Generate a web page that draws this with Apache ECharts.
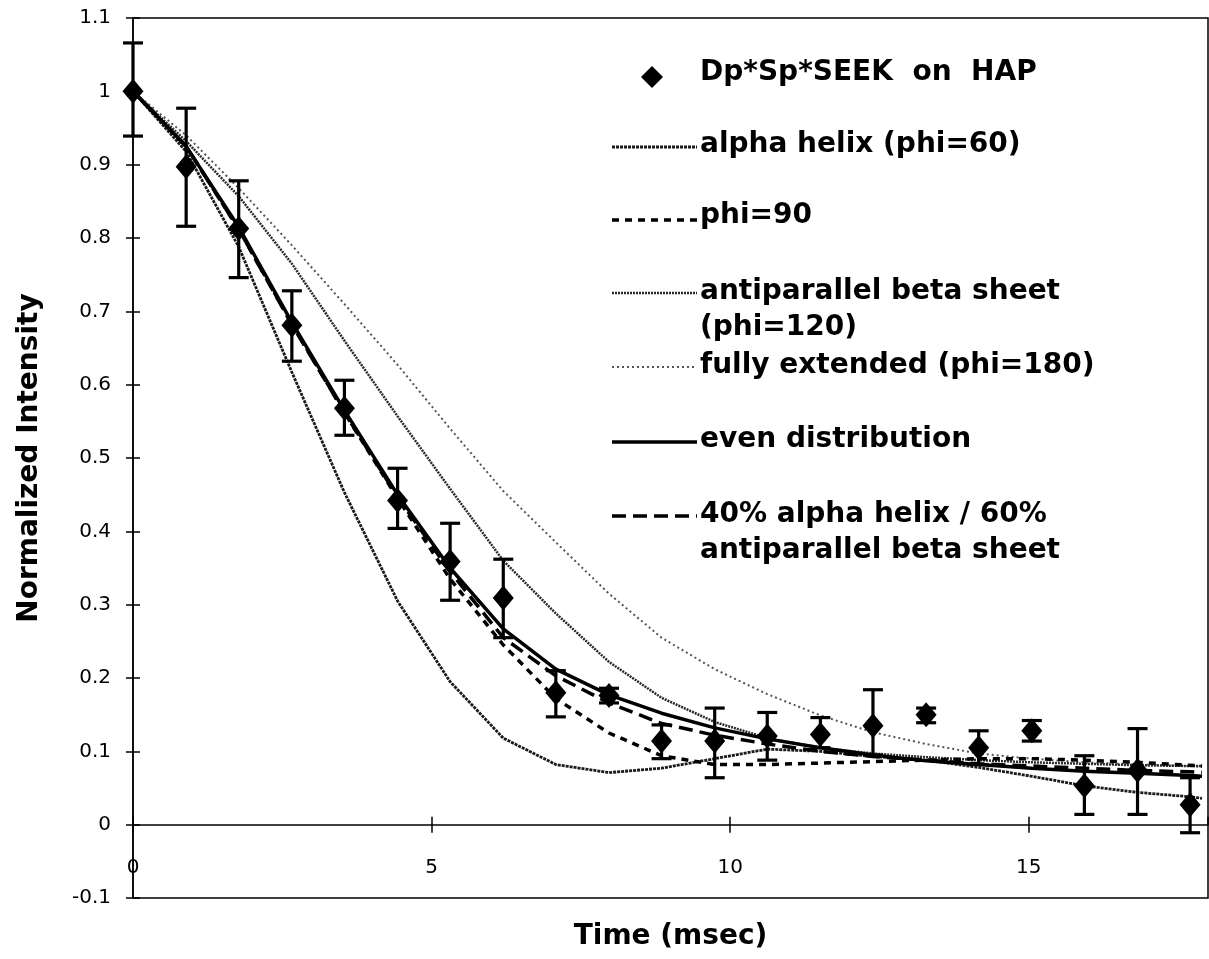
<!DOCTYPE html>
<html>
<head>
<meta charset="utf-8">
<script src="https://cdn.jsdelivr.net/npm/echarts@6/dist/echarts.min.js"></script>
<style>
html,body{margin:0;padding:0;background:#fff;}
#chart{width:1209px;height:959px;}
</style>
</head>
<body>
<div id="chart"></div>
<script>
// ---- data ----
const dataX = [0, 0.89, 1.77, 2.66, 3.54, 4.43, 5.31, 6.2, 7.08, 7.97, 8.85, 9.74, 10.62, 11.51, 12.39, 13.28, 14.16, 15.05, 15.93, 16.82, 17.7];
const dataY = [1.0, 0.897, 0.813, 0.681, 0.568, 0.442, 0.359, 0.309, 0.18, 0.176, 0.114, 0.114, 0.121, 0.123, 0.135, 0.15, 0.105, 0.128, 0.053, 0.074, 0.027];
const errHigh = [1.066, 0.977, 0.878, 0.728, 0.606, 0.486, 0.411, 0.362, 0.21, 0.186, 0.136, 0.159, 0.153, 0.146, 0.184, 0.159, 0.128, 0.142, 0.094, 0.131, 0.064];
const errLow = [0.939, 0.816, 0.746, 0.632, 0.531, 0.404, 0.306, 0.255, 0.147, 0.166, 0.09, 0.064, 0.088, 0.105, 0.095, 0.139, 0.082, 0.114, 0.014, 0.014, -0.011];

const curveX = [0, 0.89, 1.77, 2.66, 3.54, 4.43, 5.31, 6.2, 7.08, 7.97, 8.85, 9.74, 10.62, 11.51, 12.39, 13.28, 14.16, 15.05, 15.93, 16.82, 17.7, 17.9];
const alphaHelix = [1, 0.918, 0.788, 0.617, 0.453, 0.305, 0.195, 0.118, 0.082, 0.071, 0.077, 0.09, 0.103, 0.1, 0.093, 0.088, 0.078, 0.066, 0.053, 0.044, 0.038, 0.036];
const phi90 = [1, 0.925, 0.812, 0.683, 0.562, 0.445, 0.335, 0.245, 0.172, 0.125, 0.094, 0.082, 0.082, 0.084, 0.086, 0.088, 0.09, 0.09, 0.088, 0.085, 0.081, 0.08];
const betaSheet = [1, 0.932, 0.857, 0.765, 0.66, 0.557, 0.458, 0.36, 0.288, 0.222, 0.173, 0.14, 0.118, 0.105, 0.097, 0.092, 0.088, 0.085, 0.083, 0.081, 0.08, 0.08];
const fullyExt = [1, 0.94, 0.868, 0.79, 0.71, 0.627, 0.54, 0.455, 0.385, 0.315, 0.255, 0.212, 0.178, 0.149, 0.126, 0.11, 0.097, 0.09, 0.085, 0.082, 0.08, 0.079];
const evenDist = [1, 0.925, 0.815, 0.685, 0.565, 0.45, 0.35, 0.267, 0.212, 0.177, 0.152, 0.132, 0.117, 0.105, 0.095, 0.087, 0.082, 0.077, 0.073, 0.07, 0.067, 0.066];
const mix4060 = [1, 0.925, 0.812, 0.682, 0.562, 0.447, 0.345, 0.255, 0.203, 0.166, 0.138, 0.122, 0.11, 0.1, 0.093, 0.088, 0.083, 0.08, 0.077, 0.074, 0.072, 0.071];

const seriesNames = ['Dp*Sp*SEEK on HAP', 'alpha helix (phi=60)', 'phi=90', 'antiparallel beta sheet (phi=120)', 'fully extended (phi=180)', 'even distribution', '40% alpha helix / 60% antiparallel beta sheet'];

// ---- build ----
const pairs = (xs, ys) => ys.map((y, i) => [xs[i], y]);
const errData = dataX.map((x, i) => [x, errLow[i], errHigh[i]]);

const GRID_TOP = 18, GRID_BOTTOM = 61, H = 959;
const Y_MIN = -0.1, Y_MAX = 1.1;
// x axis drawn at y = 0 : offset it up from the grid bottom edge
const zeroOffset = -((0 - Y_MIN) / (Y_MAX - Y_MIN)) * (H - GRID_TOP - GRID_BOTTOM);

const chart = echarts.init(document.getElementById('chart'), null, {renderer: 'canvas'});
const TITLE_FONT = 'DejaVu Sans';
const tickFont = {fontFamily: 'DejaVu Sans', fontSize: 20, color: '#000'};

function lineSeries(name, ys, style) {
  return {
    name: name, type: 'line', data: pairs(curveX, ys), showSymbol: false, symbol: 'none',
    lineStyle: style, z: 3, silent: true
  };
}

const legendText = (txt, y) => ({
  type: 'text', left: 700, top: y - 14,
  style: {text: txt, font: 'bold 28px "DejaVu Sans"', fill: '#000'}
});
const legendLine = (y, dash, w, color) => ({
  type: 'line', shape: {x1: 612, y1: y, x2: 697, y2: y},
  style: {stroke: color, lineWidth: w, lineDash: dash}
});

const option = {
  animation: false,
  backgroundColor: '#fff',
  grid: {left: 133, right: 1, top: GRID_TOP, bottom: GRID_BOTTOM, outerBoundsMode: 'none', containLabel: false,
         show: true, borderColor: '#000', borderWidth: 1.5, backgroundColor: 'transparent'},
  xAxis: [
    {
      type: 'value', min: 0, max: 18, interval: 5, position: 'bottom', offset: zeroOffset,
      axisLine: {onZero: false, lineStyle: {color: '#000', width: 1.5}},
      axisTick: {inside: false, length: 8, lineStyle: {color: '#000', width: 1.5}},
      axisLabel: {margin: 33, showMaxLabel: false, ...tickFont, formatter: v => (v % 5 === 0 ? String(v) : '')},
      splitLine: {show: false},
      name: 'Time (msec)', nameLocation: 'middle', nameGap: 98,
      nameTextStyle: {fontFamily: TITLE_FONT, fontWeight: 'bold', fontSize: 28, color: '#000'}
    },
    {
      type: 'value', min: 0, max: 18, interval: 5, position: 'bottom', offset: zeroOffset,
      axisLine: {onZero: false, show: false},
      axisTick: {inside: true, length: 8, lineStyle: {color: '#000', width: 1.5}},
      axisLabel: {show: false}, splitLine: {show: false}
    }
  ],
  yAxis: [
    {
      type: 'value', min: Y_MIN, max: Y_MAX, interval: 0.1, position: 'left',
      axisLine: {show: true, onZero: false, lineStyle: {color: '#000', width: 1.5}},
      axisTick: {inside: false, length: 7, lineStyle: {color: '#000', width: 1.5}},
      axisLabel: {margin: 22, ...tickFont, formatter: v => String(Math.round(v * 10) / 10)},
      splitLine: {show: false},
      name: 'Normalized Intensity', nameLocation: 'middle', nameGap: 89, nameRotate: 90,
      nameTextStyle: {fontFamily: TITLE_FONT, fontWeight: 'bold', fontSize: 28, color: '#000'}
    },
    {
      type: 'value', min: Y_MIN, max: Y_MAX, interval: 0.1, position: 'left',
      axisLine: {show: false, onZero: false},
      axisTick: {inside: true, length: 7, lineStyle: {color: '#000', width: 1.5}},
      axisLabel: {show: false}, splitLine: {show: false}
    }
  ],
  series: [
    lineSeries(seriesNames[4], fullyExt, {color: '#555', width: 2, type: [2, 3]}),
    lineSeries(seriesNames[3], betaSheet, {color: '#2a2a2a', width: 2.5, type: [2, 1]}),
    lineSeries(seriesNames[1], alphaHelix, {color: '#1a1a1a', width: 2.8, type: [3, 1]}),
    lineSeries(seriesNames[2], phi90, {color: '#000', width: 3.5, type: [7, 6]}),
    lineSeries(seriesNames[6], mix4060, {color: '#000', width: 3.5, type: [14, 7]}),
    lineSeries(seriesNames[5], evenDist, {color: '#000', width: 3.5, type: 'solid'}),
    {
      name: 'errors', type: 'custom', data: errData, z: 4, silent: true,
      renderItem: function (params, api) {
        const x = api.value(0);
        const lo = api.coord([x, api.value(1)]);
        const hi = api.coord([x, api.value(2)]);
        const hw = 10;
        const st = {stroke: '#000', lineWidth: 3.2};
        return {
          type: 'group',
          children: [
            {type: 'line', shape: {x1: lo[0], y1: lo[1], x2: hi[0], y2: hi[1]}, style: st},
            {type: 'line', shape: {x1: lo[0] - hw, y1: lo[1], x2: lo[0] + hw, y2: lo[1]}, style: st},
            {type: 'line', shape: {x1: hi[0] - hw, y1: hi[1], x2: hi[0] + hw, y2: hi[1]}, style: st}
          ]
        };
      }
    },
    {
      name: seriesNames[0], type: 'scatter', data: pairs(dataX, dataY), z: 5,
      symbol: 'diamond', symbolSize: [21, 25], itemStyle: {color: '#000', opacity: 1}
    }
  ],
  graphic: [
    {type: 'polygon', shape: {points: [[652, 66], [663, 77], [652, 88], [641, 77]]}, style: {fill: '#000'}},
    legendText('Dp*Sp*SEEK  on  HAP', 73),
    legendLine(147, [3, 1], 2.8, '#1a1a1a'),
    legendText('alpha helix (phi=60)', 145),
    legendLine(220, [7, 6], 3.5, '#000'),
    legendText('phi=90', 216),
    legendLine(293, [2, 1], 2.5, '#2a2a2a'),
    legendText('antiparallel beta sheet', 292),
    legendText('(phi=120)', 328),
    legendLine(367, [2, 3], 2, '#555'),
    legendText('fully extended (phi=180)', 366),
    legendLine(442, [], 3.5, '#000'),
    legendText('even distribution', 440),
    legendLine(516, [14, 7], 3.5, '#000'),
    legendText('40% alpha helix / 60%', 515),
    legendText('antiparallel beta sheet', 551)
  ]
};
chart.setOption(option);
</script>
</body>
</html>
